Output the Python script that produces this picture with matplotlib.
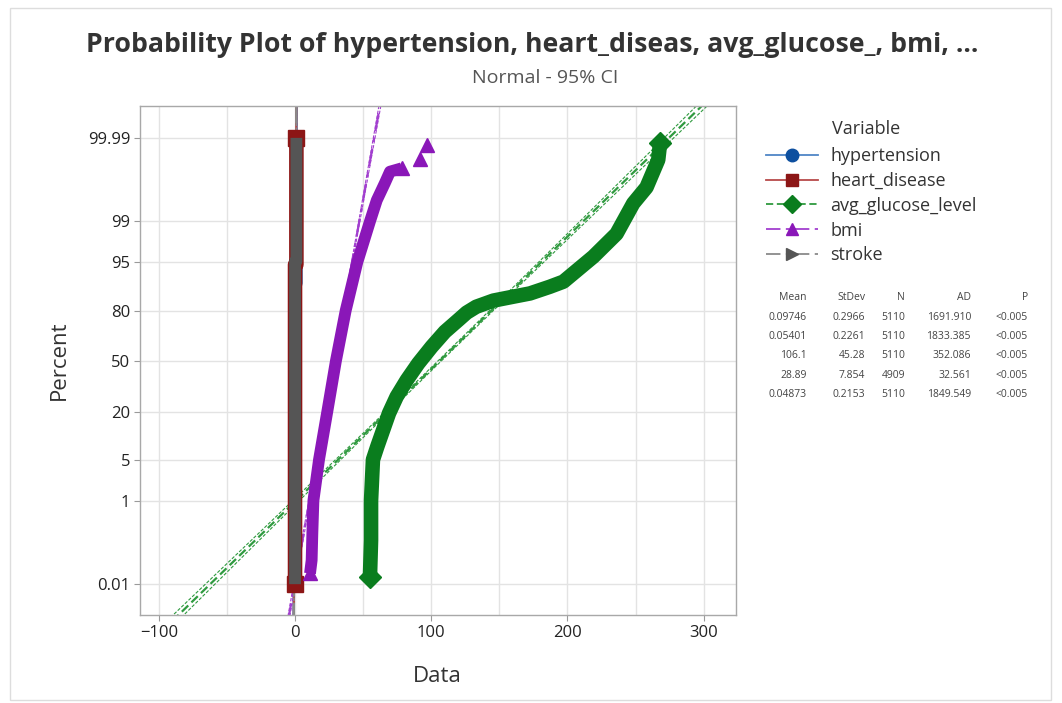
import matplotlib
matplotlib.use('Agg')
import matplotlib.pyplot as plt
import numpy as np
from statistics import NormalDist
from matplotlib.lines import Line2D
from matplotlib.patches import Rectangle

plt.rcParams['font.family'] = ['Open Sans', 'DejaVu Sans']

# data: value and cumulative percent
hypertension_value = [0, 0, 1, 1]
hypertension_pct = [0.01, 90.25, 90.26, 99.99]
heart_value = [0, 0, 1, 1]
heart_pct = [0.01, 94.6, 94.61, 99.99]
stroke_value = [0, 0, 1, 1]
stroke_pct = [0.01, 95.13, 95.14, 99.99]

glucose_value = [55.0, 55.8, 55.8, 57.2, 60.4, 69.0, 74.6, 82.0, 90.5, 100.3,
                 110.0, 119.9, 126.0, 133.0, 145.6, 160.0, 172.5, 187.0, 197.0,
                 219.0, 236.0, 248.3, 258.0, 266.6, 268.0]
glucose_pct = [0.016, 0.14, 1.0, 5.0, 7.7, 19.2, 27.6, 37.5, 48.4, 59.4,
               68.7, 75.3, 79.0, 81.7, 84.3, 85.8, 87.0, 89.2, 90.7,
               95.9, 98.3, 99.57, 99.81, 99.96, 99.986]

bmi_value = [11.0, 12.2, 12.7, 13.5, 17.6, 23.7, 30.0, 37.2, 45.7, 55.0,
             60.0, 66.0, 69.7, 78.3]
bmi_pct = [0.02, 0.045, 0.2, 1.0, 5.0, 20.0, 50.0, 80.0, 95.0, 99.0,
           99.63, 99.85, 99.92, 99.934]
bmi_outlier_value = [91.7, 96.6]
bmi_outlier_pct = [99.961, 99.984]

# summary table
names = ['hypertension', 'heart_disease', 'avg_glucose_level', 'bmi', 'stroke']
mean = [0.09746, 0.05401, 106.1, 28.89, 0.04873]
stdev = [0.2966, 0.2261, 45.28, 7.854, 0.2153]
count = [5110, 5110, 5110, 4909, 5110]
ad = ['1691.910', '1833.385', '352.086', '32.561', '1849.549']
pval = ['<0.005'] * 5
mean_txt = ['0.09746', '0.05401', '106.1', '28.89', '0.04873']
stdev_txt = ['0.2966', '0.2261', '45.28', '7.854', '0.2153']

pct_ticks = [0.01, 1, 5, 20, 50, 80, 95, 99, 99.99]
pct_labels = ['0.01', '1', '5', '20', '50', '80', '95', '99', '99.99']

marker_col = ['#0d4f9f', '#8c1616', '#0a7d1e', '#8a17b8', '#555555']
line_col = ['#4f86c6', '#b84a4a', '#2f9a3f', '#a23fcf', '#8a8a8a']
markers = ['o', 's', 'D', '^', '>']
dashes = [(None, None), (None, None), (4, 2), (8, 3, 2, 3), (8, 3, 2, 3)]

nd = NormalDist()


def to_z(p):
    p = np.clip(np.asarray(p, dtype=float), 1e-9, 100 - 1e-9)
    return np.vectorize(lambda v: nd.inv_cdf(v / 100.0), otypes=[float])(p)


def from_z(z):
    return np.vectorize(lambda v: nd.cdf(v) * 100.0, otypes=[float])(np.asarray(z, dtype=float))


fig = plt.figure(figsize=(10.62, 7.03), dpi=100)
ax = fig.add_axes([140 / 1062, 1 - 615 / 703, 596 / 1062, 509 / 703])
ax.set_yscale('function', functions=(to_z, from_z))
zlo, zhi = -4.233, 4.25
ax.set_ylim(from_z(zlo), from_z(zhi))
ax.set_xlim(-113.8, 323.7)

# fitted lines and 95% CI
zgrid = np.linspace(zlo - 0.1, zhi + 0.1, 80)
pgrid = from_z(zgrid)
for i in range(5):
    fit = mean[i] + stdev[i] * zgrid
    half = 1.96 * stdev[i] * np.sqrt(1.0 / count[i] + zgrid ** 2 / (2.0 * count[i]))
    ln, = ax.plot(fit, pgrid, color=line_col[i], lw=1.6, zorder=2)
    if dashes[i][0] is not None:
        ln.set_dashes(dashes[i])
    for sgn in (-1, 1):
        ax.plot(fit + sgn * half, pgrid, color=line_col[i], lw=0.8,
                dashes=(3, 1.5), zorder=2)

# data bands (dense markers drawn as a thick stroke)
series = [(hypertension_value, hypertension_pct), (heart_value, heart_pct),
          (glucose_value, glucose_pct), (bmi_value, bmi_pct),
          (stroke_value, stroke_pct)]
band_w = [9.0, 10.5, 10.5, 8.5, 8.5]
msize = [8, 9, 9, 8, 8]
end_marks = [False, True, True, True, False]
for i, (xv, pv) in enumerate(series):
    ax.plot(xv, pv, color=marker_col[i], lw=band_w[i], solid_capstyle='butt',
            solid_joinstyle='round', zorder=3 + i * 0.1)
    if end_marks[i]:
        ax.plot([xv[0], xv[-1]], [pv[0], pv[-1]], ls='none', marker=markers[i],
                ms=msize[i] + 2, color=marker_col[i], zorder=3 + i * 0.1)
ax.plot(bmi_outlier_value, bmi_outlier_pct, ls='none', marker='^', ms=10,
        color=marker_col[3], zorder=3.3)

ax.set_yticks(pct_ticks)
ax.set_yticklabels(pct_labels)
ax.yaxis.set_minor_locator(matplotlib.ticker.NullLocator())
ax.set_xticks([-100, 0, 100, 200, 300])
ax.set_xticks([-50, 50, 150, 250], minor=True)
ax.tick_params(which='major', length=4, color='#9a9a9a', labelsize=12,
               labelcolor='#222222', pad=3)
ax.tick_params(which='minor', length=0)
ax.grid(True, which='both', color='#e3e3e3', lw=1.0, zorder=0)
ax.set_axisbelow(True)
for sp in ax.spines.values():
    sp.set_color('#a8a8a8')
    sp.set_linewidth(1.0)

fig.text(532 / 1062, 1 - 45 / 703,
         'Probability Plot of hypertension, heart_diseas, avg_glucose_, bmi, ...',
         ha='center', va='center', fontsize=19.2, fontweight='bold', color='#333333')
fig.text(545 / 1062, 1 - 78 / 703, 'Normal - 95% CI', ha='center', va='center',
         fontsize=14, color='#555555')
fig.text(59 / 1062, 1 - 360 / 703, 'Percent', rotation=90, ha='center',
         va='center', fontsize=16, color='#333333')
fig.text(437 / 1062, 1 - 676 / 703, 'Data', ha='center', va='center',
         fontsize=16, color='#333333')

# legend
handles = []
for i in range(5):
    h = Line2D([], [], color=line_col[i], marker=markers[i], ms=9,
               markerfacecolor=marker_col[i], markeredgecolor=marker_col[i], lw=1.3)
    if dashes[i][0] is not None:
        h.set_dashes(dashes[i])
    handles.append(h)
fig.text(832 / 1062, 1 - 129 / 703, 'Variable', ha='left', va='center',
         fontsize=13, color='#333333')
fig.legend(handles, names, loc='upper left',
           bbox_to_anchor=(766 / 1062, 1 - 147 / 703), frameon=False,
           fontsize=13, handlelength=2.9, handletextpad=0.65, labelspacing=0.38,
           borderpad=0, borderaxespad=0, labelcolor='#333333')

# summary table
cols = [(['Mean'] + mean_txt, 807), (['StDev'] + stdev_txt, 865),
        (['N'] + [str(c) for c in count], 905), (['AD'] + ad, 971),
        (['P'] + pval, 1028)]
for vals, xr in cols:
    for r, v in enumerate(vals):
        y = 298 + r * 19.3
        fig.text(xr / 1062, 1 - y / 703, v, ha='right', va='center',
                 fontsize=7.5, color='#444444')

fig.patches.append(Rectangle((10 / 1062, 1 - 700 / 703), 1041 / 1062, 692 / 703,
                             transform=fig.transFigure, fill=False,
                             edgecolor='#dddddd', lw=1.0))

fig.savefig('out.png', dpi=100)
